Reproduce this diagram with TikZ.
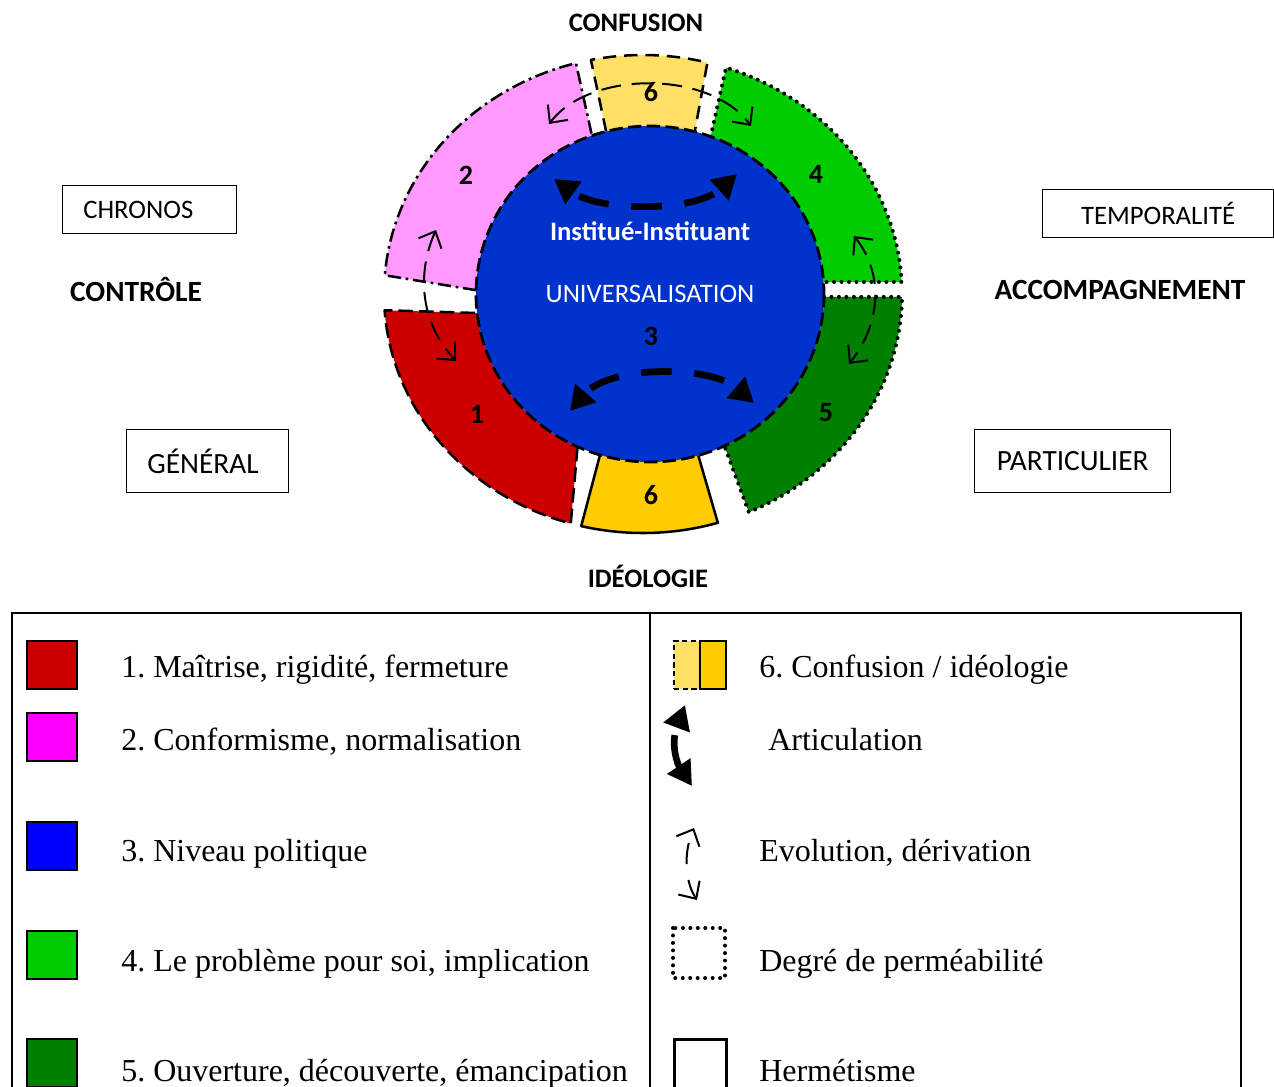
\documentclass[tikz,border=0pt]{standalone}
\usepackage{fontspec}
\setmainfont{Liberation Serif}
\newfontfamily\calfont{Carlito}
\usetikzlibrary{arrows.meta,calc}
\frenchspacing
\definecolor{cred}{RGB}{204,0,0}
\definecolor{cpink}{RGB}{255,153,255}
\definecolor{cblue}{RGB}{0,51,204}
\definecolor{cgreen}{RGB}{0,204,0}
\definecolor{cdgreen}{RGB}{0,128,0}
\definecolor{cyel}{RGB}{255,204,0}
\definecolor{clyel}{RGB}{255,224,102}
\definecolor{cmag}{RGB}{255,0,255}
\definecolor{cpblue}{RGB}{0,0,255}
% #1 fill, #2 border style, #3/#4 outer angles, #5/#6 inner angles
\newcommand\ringseg[6]{%
  \fill[#1] ($(O)+(#3:259 and 239)$) arc[start angle=#3, end angle=#4, x radius=259, y radius=239]
    -- ($(I)+(#6:174 and 168)$) arc[start angle=#6, end angle=#5, x radius=174, y radius=168] -- cycle;
  \draw[#2] ($(I)+(#5:174 and 168)$) -- ($(O)+(#3:259 and 239)$)
    arc[start angle=#3, end angle=#4, x radius=259, y radius=239] -- ($(I)+(#6:174 and 168)$);
}
\tikzset{
  segline/.style={line width=1.9pt, line join=round},
  dashedge/.style={segline, dash pattern=on 11pt off 4.5pt},
  dashdotedge/.style={segline, dash pattern=on 10pt off 3.5pt on 2pt off 3.5pt},
  dotedge/.style={line width=3pt, line cap=round, dash pattern=on 0pt off 5.6pt},
  solidedge/.style={segline},
  biglab/.style={font=\calfont\bfseries\fontsize{20}{24}\selectfont, inner sep=0pt},
  sidelab/.style={font=\calfont\bfseries\fontsize{22}{26}\selectfont, inner sep=0pt},
  reglab/.style={font=\calfont\fontsize{20}{24}\selectfont, inner sep=0pt},
  boxlab/.style={draw, line width=1.1pt, font=\calfont\fontsize{20}{24}\selectfont, inner sep=0pt},
  num/.style={font=\calfont\bfseries\fontsize{21}{24}\selectfont, inner sep=0pt},
  leg/.style={font=\fontsize{24}{28}\selectfont, anchor=base west, inner sep=0pt},
  swatch/.style={draw, line width=1.5pt, minimum width=37.5pt, minimum height=36pt, inner sep=0pt, anchor=north west},
  artic/.style={line width=5pt, {Triangle[length=18pt,width=20pt]}-{Triangle[length=18pt,width=20pt]}},
  evol/.style={line width=1.5pt, dash pattern=on 15pt off 8pt, {Straight Barb[length=10pt,width=19pt]}-{Straight Barb[length=10pt,width=19pt]}},
}
\begin{document}
\begin{tikzpicture}[x=0.75pt,y=-0.75pt]
\useasboundingbox (0,0) rectangle (1274,1086);
\clip (0,0) rectangle (1274,1086);
\coordinate (O) at (643,294);
\coordinate (I) at (650,294);

% ring segments
\ringseg{cpink}{dashdotedge}{184.5}{255}{181.3}{250.5}
\ringseg{clyel}{dashedge, dash pattern=on 10pt off 6pt}{258.4}{284.4}{255.4}{284.9}
\ringseg{cgreen}{dotedge}{288.7}{357.1}{290.4}{355.9}
\ringseg{cdgreen}{dotedge}{0.7}{65.9}{1.0}{64.7}
\ringseg{cyel}{solidedge}{73.2}{103.8}{73.9}{106.7}
\ringseg{cred}{dashedge}{106.2}{176.1}{114.6}{173.5}

% core
\draw[fill=cblue, line width=2.1pt, dash pattern=on 10pt off 4pt] (I) ellipse[x radius=174, y radius=168];

% labels in the circle
\node (inst) [biglab, text=white] at (650,231) {Institué-Instituant};
\node (univ) [reglab, text=white] at (650,294) {UNIVERSALISATION};
\node (n3) [num] at (651,336) {3};
\node (n2) [num] at (466,175) {2};
\node (n4) [num] at (816,174) {4};
\node (n1) [num] at (477,414) {1};
\node (n5) [num] at (826,413) {5};
\node (n6t) [num] at (651,92) {6};
\node (n6b) [num] at (651,495) {6};

% articulation arrows
\coordinate (at1) at (554,179);
\coordinate (at2) at (737,174);
\coordinate (ab1) at (570,411);
\coordinate (ab2) at (754,403);
\draw[artic, dash pattern=on 23pt off 17pt, dash phase=34pt] (at1) .. controls (600,212) and (695,212) .. (at2);
\draw[artic, dash pattern=on 23pt off 17pt, dash phase=34pt] (ab1) .. controls (610,365) and (710,365) .. (ab2);

% evolution arrows
\coordinate (et1) at (549,124);
\coordinate (et2) at (751,126);
\coordinate (el1) at (436,230);
\coordinate (el2) at (456,361);
\coordinate (er1) at (854,236);
\coordinate (er2) at (849,364);
\draw[evol] (et1) .. controls (590,70) and (710,70) .. (et2);
\draw[evol] (el1) .. controls (418,270) and (418,320) .. (el2);
\draw[evol] (er1) .. controls (885,275) and (880,325) .. (er2);

% outer labels
\node (conf) [biglab] at (636,23) {CONFUSION};
\node (ideo) [biglab] at (648,576) {IDÉOLOGIE};
\node (ctrl) [sidelab] at (136,290) {CONTRÔLE};
\node (acc) [sidelab] at (1120,290) {ACCOMPAGNEMENT};
\node (chronos) [boxlab, anchor=north west, text width=130.5pt, minimum height=36pt, align=left] at (62,185) {\hspace*{15.5pt}CHRONOS};
\node (tempo) [boxlab, anchor=north west, minimum width=173pt, minimum height=36pt] at (1042,189) {TEMPORALITÉ};
\node (gen) [boxlab, font=\calfont\fontsize{22}{26}\selectfont, anchor=north west, text width=121.5pt, minimum height=47pt, align=left] at (126,429) {\hspace*{15.5pt}GÉNÉRAL};
\node (part) [boxlab, font=\calfont\fontsize{22}{26}\selectfont, anchor=north west, minimum width=147pt, minimum height=47pt] at (974,429) {PARTICULIER};

% legend frame
\draw[line width=1.5pt] (12,1100) -- (12,613) -- (1241,613) -- (1241,1100);
\draw[line width=1.5pt] (650,613) -- (650,1100);

% left column
\node (sw1) [swatch, fill=cred] at (26,640) {};
\node (sw2) [swatch, fill=cmag] at (26,712) {};
\node (sw3) [swatch, fill=cpblue] at (26,821) {};
\node (sw4) [swatch, fill=cgreen] at (26,930) {};
\node (sw5) [swatch, fill=cdgreen] at (26,1038) {};
\node (l1) [leg] at (121,677) {1. Maîtrise, rigidité, fermeture};
\node (l2) [leg] at (121,750) {2. Conformisme, normalisation};
\node (l3) [leg] at (121,861) {3. Niveau politique};
\node (l4) [leg] at (121,971) {4. Le problème pour soi, implication};
\node (l5) [leg] at (121,1081) {5. Ouverture, découverte, émancipation};

% right column
\node (sw6a) [swatch, fill=clyel, minimum width=19.5pt, dash pattern=on 4pt off 2.5pt] at (673,640) {};
\node (sw6b) [swatch, fill=cyel, minimum width=19.5pt] at (699,640) {};
\coordinate (la1) at (685,705);
\coordinate (la2) at (692,786);
\draw[artic, dash pattern=on 30pt off 7pt, dash phase=30pt] (la1) .. controls (670,745) and (678,765) .. (la2);
\coordinate (le1) at (694,828);
\coordinate (le2) at (697,900);
\draw[evol, dash pattern=on 16pt off 12pt, dash phase=18pt] (le1) .. controls (684,850) and (684,880) .. (le2);
\node (sw7) [swatch, draw=none] at (673,928) {};
\draw[dotedge] (sw7.north west) rectangle (sw7.south east);
\node (sw8) [swatch, line width=2.4pt, minimum width=39pt, minimum height=40pt] at (673,1038) {};
\node (r6) [leg] at (759,677) {6. Confusion / idéologie};
\node (ra) [leg] at (768,750) {Articulation};
\node (re) [leg] at (759,861) {Evolution, dérivation};
\node (rd) [leg] at (759,971) {Degré de perméabilité};
\node (rh) [leg] at (759,1081) {Hermétisme};
\end{tikzpicture}
\end{document}
